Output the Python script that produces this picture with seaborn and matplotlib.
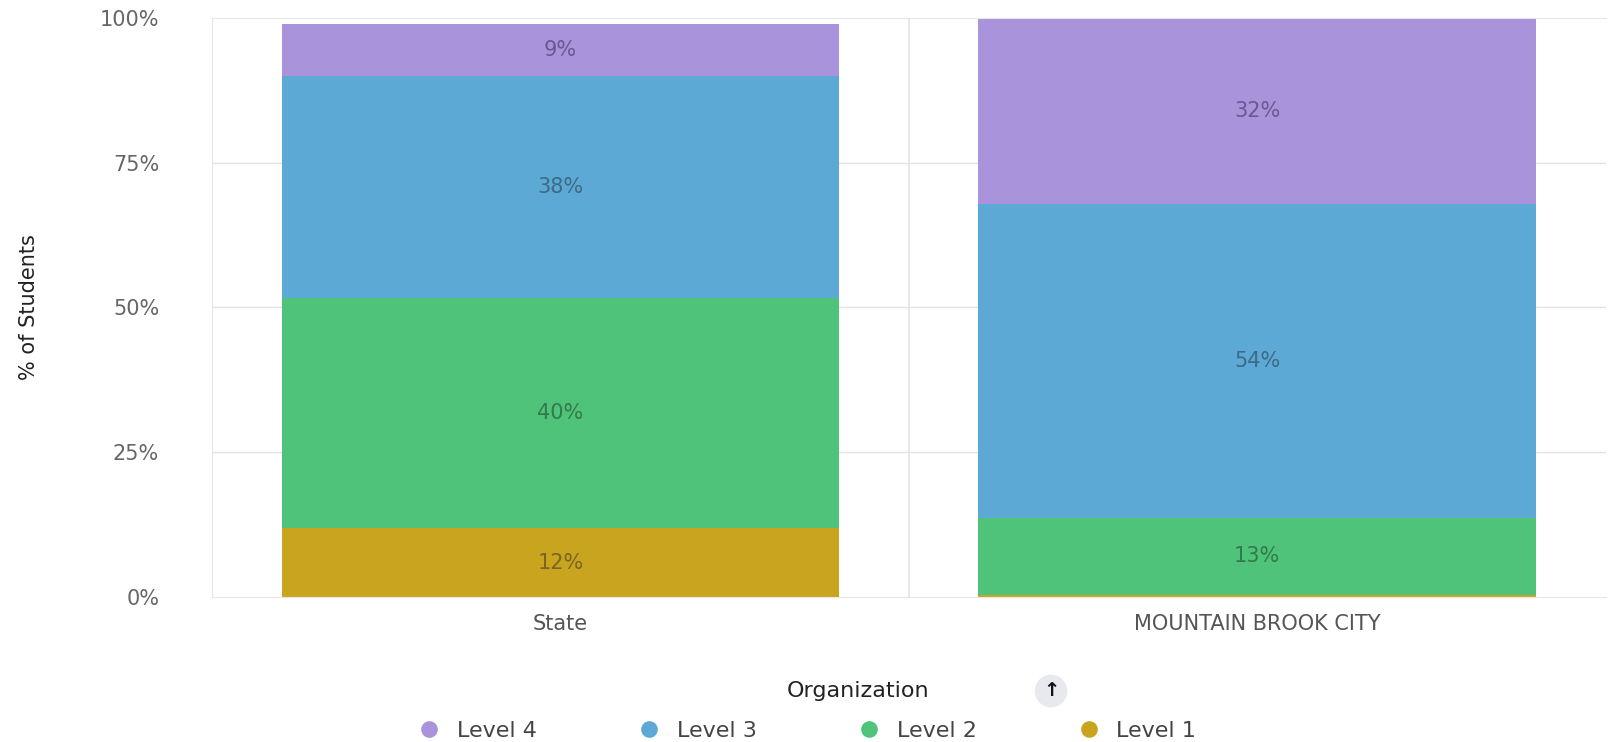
"""Stacked percentage bars: achievement levels, State vs Mountain Brook City."""
import matplotlib.pyplot as plt
from matplotlib.lines import Line2D
import pandas as pd
import seaborn as sns

categories = ["State", "MOUNTAIN BROOK CITY"]
level_names = ["Level 1", "Level 2", "Level 3", "Level 4"]
level1 = [11.9, 0.4]
level2 = [39.7, 13.3]
level3 = [38.3, 54.2]
level4 = [9.0, 32.1]
colors = {"Level 1": "#C9A41F", "Level 2": "#50C37A",
          "Level 3": "#5BA9D4", "Level 4": "#A993DA"}
label_colors = {"Level 1": "#6b5a20", "Level 2": "#2f6b46",
                "Level 3": "#3a5f78", "Level 4": "#5e4f85"}

df = pd.DataFrame({"Organization": categories, "Level 1": level1,
                   "Level 2": level2, "Level 3": level3, "Level 4": level4})

sns.set_style("white")
plt.rcParams["font.family"] = ["DejaVu Sans"]

fig = plt.figure(figsize=(16.12, 7.42), dpi=100)
ax = fig.add_axes([0.1315, 0.1954, 0.8645, 0.7806])

# cumulative tops, drawn from the highest level down so each one overlaps the next
cum = df[level_names].cumsum(axis=1)
for lvl in reversed(level_names):
    sns.barplot(x=df["Organization"], y=cum[lvl], color=colors[lvl],
                width=0.8, saturation=1, ax=ax, edgecolor="none", linewidth=0)

for i, cat in enumerate(categories):
    base = 0
    for lvl in level_names:
        v = df.loc[i, lvl]
        if v >= 3:
            ax.text(i, base + v / 2, f"{round(v)}%", ha="center", va="center",
                    fontsize=15, color=label_colors[lvl], alpha=0.85)
        base += v

ax.set_xlim(-0.5, 1.5)
ax.set_ylim(0, 100)
ax.set_yticks([0, 25, 50, 75, 100])
ax.set_yticklabels(["0%", "25%", "50%", "75%", "100%"])
ax.tick_params(axis="y", labelsize=15, labelcolor="#666666", length=0, pad=38)
ax.tick_params(axis="x", labelsize=15, labelcolor="#555555", length=0, pad=12)
ax.set_xlabel("")
ax.set_ylabel("% of Students", fontsize=15, color="#222222", labelpad=44)
for y in [25, 50, 75]:
    ax.axhline(y, color="#e4e4e4", lw=1, zorder=0)
ax.axvline(0.5, color="#e4e4e4", lw=1.2, zorder=0)
for side in ["left", "top", "bottom"]:
    ax.spines[side].set_color("#e6e6e6")
ax.spines["right"].set_visible(False)

# sort control and legend
fig.text(0.532, 1 - 691 / 742, "Organization", ha="center", va="center",
         fontsize=16, color="#222222")
fig.text(1051 / 1612, 1 - 691 / 742, "↑", ha="center", va="center",
         fontsize=14, color="#111111", fontweight="bold",
         bbox=dict(boxstyle="circle,pad=0.35", fc="#e8e9ee", ec="none"))

handles = [Line2D([], [], marker="o", ls="none", markersize=12,
                  markerfacecolor=colors[l], markeredgecolor="none", label=l)
           for l in reversed(level_names)]
fig.legend(handles=handles, loc="center", bbox_to_anchor=(0.499, 1 - 731 / 742),
           ncol=4, frameon=False, fontsize=16, handletextpad=0.5,
           handlelength=1.5, columnspacing=4.3, labelcolor="#444444")

plt.savefig("out.png", dpi=100)
plt.close()
